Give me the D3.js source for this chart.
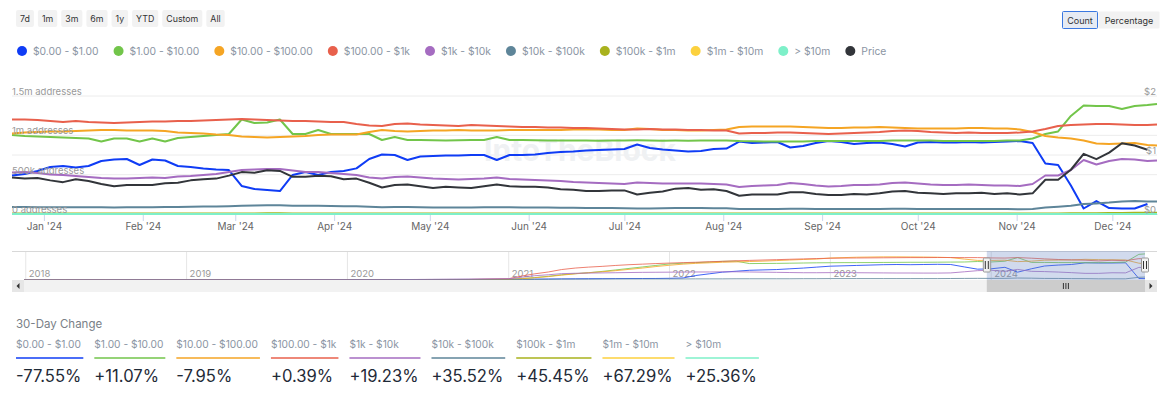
<!DOCTYPE html>
<html>
<head>
<meta charset="utf-8">
<title>Addresses by Balance</title>
<script src="https://cdn.jsdelivr.net/npm/d3@7/dist/d3.min.js"></script>
<style>
  body { margin: 0; background: #fff; }
  svg { display: block; font-family: Inter, "Noto Sans", sans-serif; }
</style>
</head>
<body>
<svg></svg>
<script>
var width = 1170;
var height = 398;

var svg = d3.select('svg')
    .attr('width', width)
    .attr('height', height);

//..................................................................................//
// data

var seriesNames = ['$0.00 - $1.00', '$1.00 - $10.00', '$10.00 - $100.00', '$100.00 - $1k', '$1k - $10k',
    '$10k - $100k', '$100k - $1m', '$1m - $10m', '> $10m'];
var seriesColors = ['#0f3cf5', '#72c54a', '#f5a524', '#e8604c', '#a56cc1', '#5e8599', '#a9b21d', '#fcd13e', '#7ef0c9'];
var priceName = 'Price';
var priceColor = '#32353a';

var changeValues = ['-77.55%', '+11.07%', '-7.95%', '+0.39%', '+19.23%', '+35.52%', '+45.45%', '+67.29%', '+25.36%'];
var rangeButtons = ['7d', '1m', '3m', '6m', '1y', 'YTD', 'Custom', 'All'];
var unitButtons = ['Count', 'Percentage'];

var yTicks = [0, 500, 1000, 1500];
var yTickLabels = ['0 addresses', '500k addresses', '1m addresses', '1.5m addresses'];
var priceTicks = [0, 1, 2];
var priceTickLabels = ['$0', '$1', '$2'];

// one sample every 4 days, 22 Dec 2023 .. 15 Dec 2024 (address counts in thousands)
var startDay = new Date(2023, 11, 22);
var days = d3.range(90).map(function (i) { return d3.timeDay.offset(startDay, i * 4); })
    .concat([new Date(2024, 11, 15)]);

var addr0to1 = [489, 508, 547, 597, 610, 591, 610, 674, 693, 699,
    623, 693, 680, 610, 597, 578, 566, 559, 356, 318,
    305, 292, 496, 534, 496, 534, 547, 580, 700, 756,
    750, 686, 731, 737, 744, 744, 750, 750, 686, 750,
    750, 756, 775, 788, 794, 807, 813, 820, 826, 883,
    839, 820, 807, 794, 801, 826, 832, 921, 902, 909,
    915, 845, 864, 902, 928, 915, 890, 902, 909, 890,
    858, 909, 915, 909, 909, 915, 909, 915, 921, 928,
    902, 642, 623, 362, 70, 165, 76, 70, 70, 127,
    null];
var addr1to10 = [1004, 991, 985, 979, 972, 966, 960, 921, 960, 960,
    921, 960, 921, 966, 979, 991, 1004, 1017, 1201, 1157,
    1163, 1201, 1017, 1017, 1068, 1017, 1017, 1017, 1017, 941,
    979, 941, 940, 936, 934, 938, 941, 941, 979, 941,
    940, 936, 934, 933, 935, 934, 932, 934, 935, 936,
    934, 931, 933, 932, 934, 935, 934, 928, 926, 922,
    921, 921, 923, 928, 927, 928, 929, 928, 928, 934,
    934, 933, 934, 928, 928, 927, 928, 929, 934, 934,
    960, 1017, 1049, 1246, 1379, 1373, 1373, 1335, 1373, 1385,
    1398];
var addr10to100 = [1023, 1036, 1042, 1049, 1049, 1055, 1061, 1068, 1068, 1061,
    1061, 1061, 1055, 1036, 1030, 1023, 1010, 1004, 985, 979,
    972, 979, 985, 991, 1004, 1010, 1010, 1010, 1042, 1068,
    1055, 1049, 1055, 1061, 1061, 1068, 1061, 1061, 1061, 1068,
    1068, 1068, 1068, 1068, 1074, 1074, 1074, 1068, 1068, 1087,
    1080, 1068, 1068, 1061, 1061, 1068, 1074, 1106, 1112, 1112,
    1112, 1112, 1106, 1099, 1093, 1093, 1099, 1099, 1106, 1099,
    1093, 1087, 1087, 1087, 1087, 1093, 1093, 1087, 1087, 1074,
    1042, 991, 972, 960, 934, 896, 890, 896, 902, 877,
    871];
var addr100to1k = [1201, 1201, 1195, 1182, 1169, 1182, 1169, 1163, 1157, 1163,
    1169, 1176, 1176, 1182, 1182, 1188, 1195, 1201, 1207, 1201,
    1195, 1188, 1182, 1182, 1176, 1169, 1169, 1144, 1125, 1118,
    1144, 1150, 1138, 1131, 1125, 1118, 1131, 1125, 1118, 1112,
    1106, 1106, 1099, 1099, 1093, 1093, 1087, 1080, 1074, 1074,
    1080, 1074, 1074, 1068, 1068, 1061, 1061, 1023, 1030, 1030,
    1036, 1036, 1030, 1023, 1017, 1023, 1030, 1036, 1042, 1055,
    1061, 1055, 1042, 1036, 1030, 1036, 1030, 1030, 1030, 1036,
    1049, 1080, 1118, 1131, 1138, 1144, 1144, 1138, 1131, 1131,
    1138];
var addr1kto10k = [527, 534, 521, 502, 496, 483, 470, 458, 451, 451,
    458, 464, 458, 477, 483, 496, 508, 534, 559, 566,
    572, 572, 553, 534, 534, 521, 508, 496, 464, 451,
    470, 477, 464, 451, 445, 438, 445, 451, 464, 445,
    438, 432, 426, 419, 407, 400, 394, 388, 381, 400,
    394, 388, 388, 388, 388, 381, 375, 343, 356, 362,
    369, 394, 381, 362, 350, 356, 369, 369, 375, 394,
    400, 388, 375, 369, 369, 375, 369, 362, 362, 356,
    381, 489, 489, 559, 686, 629, 674, 699, 693, 674,
    680];
var addr10kto100k = [88, 88, 87, 86, 86, 87, 86, 85, 84, 85,
    85, 86, 88, 90, 92, 94, 96, 100, 106, 108,
    110, 110, 106, 104, 104, 103, 100, 98, 92, 86,
    88, 88, 86, 84, 84, 84, 83, 85, 87, 85,
    84, 83, 82, 80, 78, 76, 75, 75, 74, 70,
    71, 73, 76, 77, 75, 74, 72, 62, 63, 64,
    64, 67, 67, 64, 62, 62, 63, 62, 64, 66,
    67, 64, 63, 62, 62, 63, 64, 62, 62, 61,
    64, 82, 92, 105, 126, 135, 145, 160, 166, 160,
    158];
var addr100kto1m = [7, 7, 7, 6.8, 6.6, 6.8, 6.6, 6.3, 6.1, 6.2,
    6.2, 6.2, 6.4, 6.6, 6.8, 6.8, 6.9, 7.2, 7.8, 7.8,
    8.1, 8.0, 7.3, 7.3, 7.4, 7.3, 7.0, 7.0, 6.6, 6.1,
    6.3, 6.4, 6.2, 6.0, 6.1, 6.0, 6.0, 6.2, 6.3, 6.1,
    6.1, 6.1, 6.0, 5.8, 5.7, 5.5, 5.5, 5.5, 5.5, 5.1,
    5.3, 5.4, 5.7, 5.8, 5.6, 5.6, 5.4, 4.9, 5.0, 5.0,
    5.0, 5.2, 5.2, 5.0, 4.9, 4.9, 5.0, 5.0, 5.1, 5.2,
    5.3, 5.1, 5.1, 5.0, 5.1, 5.1, 5.2, 5.0, 5.1, 4.9,
    5.0, 6.2, 6.6, 8.5, 10.5, 11, 12, 14, 14.5, 15,
    15.5];
var addr1mto10m = [0.9, 0.9, 0.9, 0.9, 0.8, 0.9, 0.8, 0.8, 0.8, 0.8,
    0.8, 0.8, 0.8, 0.8, 0.9, 0.9, 0.9, 0.9, 1.0, 1.0,
    1.0, 1.0, 0.9, 0.9, 0.9, 0.9, 0.9, 0.9, 0.9, 0.8,
    0.8, 0.8, 0.8, 0.8, 0.8, 0.8, 0.8, 0.8, 0.8, 0.8,
    0.8, 0.8, 0.8, 0.8, 0.7, 0.7, 0.7, 0.7, 0.7, 0.7,
    0.7, 0.7, 0.7, 0.7, 0.7, 0.7, 0.7, 0.6, 0.6, 0.6,
    0.6, 0.6, 0.6, 0.6, 0.6, 0.6, 0.6, 0.6, 0.6, 0.6,
    0.6, 0.6, 0.6, 0.6, 0.6, 0.6, 0.6, 0.6, 0.6, 0.6,
    0.6, 0.7, 0.7, 0.8, 1.0, 1.0, 1.1, 1.2, 1.2, 1.2,
    1.2];
var addrOver10m = [0.2, 0.2, 0.2, 0.2, 0.2, 0.2, 0.2, 0.2, 0.2, 0.2,
    0.2, 0.2, 0.2, 0.2, 0.2, 0.2, 0.2, 0.2, 0.25, 0.25,
    0.25, 0.25, 0.2, 0.2, 0.2, 0.2, 0.2, 0.2, 0.2, 0.2,
    0.2, 0.2, 0.2, 0.2, 0.2, 0.2, 0.2, 0.2, 0.2, 0.2,
    0.2, 0.2, 0.2, 0.2, 0.2, 0.2, 0.2, 0.2, 0.2, 0.2,
    0.2, 0.2, 0.2, 0.2, 0.2, 0.2, 0.2, 0.15, 0.15, 0.15,
    0.15, 0.15, 0.15, 0.15, 0.15, 0.15, 0.15, 0.15, 0.15, 0.15,
    0.15, 0.15, 0.15, 0.15, 0.15, 0.15, 0.15, 0.15, 0.15, 0.15,
    0.15, 0.17, 0.17, 0.18, 0.2, 0.2, 0.21, 0.22, 0.22, 0.22,
    0.22];
var price = [0.62, 0.60, 0.61, 0.57, 0.54, 0.59, 0.56, 0.51, 0.47, 0.49,
    0.49, 0.49, 0.52, 0.53, 0.57, 0.59, 0.60, 0.65, 0.71, 0.70,
    0.74, 0.73, 0.63, 0.63, 0.65, 0.64, 0.59, 0.60, 0.53, 0.45,
    0.49, 0.50, 0.47, 0.44, 0.46, 0.45, 0.44, 0.47, 0.50, 0.47,
    0.46, 0.46, 0.45, 0.42, 0.41, 0.39, 0.39, 0.40, 0.40, 0.33,
    0.36, 0.38, 0.43, 0.44, 0.41, 0.42, 0.39, 0.31, 0.33, 0.33,
    0.33, 0.37, 0.37, 0.34, 0.32, 0.32, 0.34, 0.33, 0.35, 0.38,
    0.39, 0.36, 0.35, 0.34, 0.35, 0.35, 0.36, 0.34, 0.35, 0.33,
    0.35, 0.58, 0.58, 0.75, 1.02, 0.93, 1.04, 1.20, 1.16, 1.09,
    null];

var mainSeries = [addr0to1, addr1to10, addr10to100, addr100to1k, addr1kto10k,
    addr10kto100k, addr100kto1m, addr1mto10m, addrOver10m];

// navigator: full history, thousands of addresses
var navDays = ['2017-12-28', '2018-04-01', '2018-07-01', '2018-10-01', '2019-01-01', '2019-04-01',
    '2019-07-01', '2019-10-01', '2020-01-01', '2020-04-01', '2020-07-01', '2020-10-01']
    .map(function (s) { return d3.timeParse('%Y-%m-%d')(s); })
    .concat(d3.timeMonth.range(new Date(2021, 0, 1), new Date(2025, 0, 1)))
    .concat([new Date(2024, 11, 15)]);

var nav0to1 = [3, 6, 7, 8, 9, 10, 12, 14, 17, 22, 28, 35,
    40, 45, 50, 55, 60, 65, 70, 72, 75, 78, 80, 82,
    90, 110, 240, 330, 420, 470, 520, 540, 560, 600, 640, 690,
    740, 760, 780, 800, 820, 830, 820, 830, 840, 830, 700, 580,
    600, 680, 420, 600, 750, 800, 830, 920, 910, 910, 920, 80,
    75];
var nav1to10 = [1, 3, 4, 4, 5, 6, 7, 8, 9, 11, 13, 16,
    30, 80, 130, 200, 280, 340, 390, 460, 540, 620, 700, 780,
    860, 900, 930, 960, 1000, 1010, 880, 885, 890, 900, 910, 920,
    925, 930, 930, 935, 940, 945, 950, 950, 955, 960, 965, 990,
    966, 1004, 1201, 941, 941, 934, 934, 928, 928, 934, 960, 1373,
    1398];
var nav10to100 = [1, 3, 4, 5, 5, 6, 7, 8, 9, 10, 12, 14,
    25, 70, 120, 180, 260, 330, 390, 440, 500, 570, 640, 720,
    790, 850, 890, 920, 950, 970, 990, 1010, 1040, 1070, 1100, 1120,
    1180, 1200, 1220, 1230, 1240, 1240, 1235, 1230, 1220, 1200, 1120, 1050,
    1049, 1061, 985, 1010, 1061, 1068, 1074, 1106, 1093, 1087, 1074, 902,
    871];
var nav100to1k = [2, 8, 10, 12, 13, 15, 17, 19, 21, 24, 28, 34,
    70, 220, 330, 430, 560, 640, 690, 730, 780, 820, 850, 880,
    906, 930, 950, 980, 1000, 1030, 1050, 1070, 1090, 1110, 1130, 1150,
    1165, 1175, 1180, 1185, 1190, 1195, 1200, 1200, 1205, 1205, 1200, 1200,
    1182, 1176, 1201, 1169, 1131, 1099, 1080, 1061, 1023, 1055, 1036, 1144,
    1138];
var nav1kto10k = [3, 8, 10, 11, 12, 13, 15, 17, 19, 22, 30, 40,
    70, 150, 230, 280, 340, 360, 370, 380, 390, 400, 410, 415,
    420, 425, 430, 430, 440, 440, 430, 420, 410, 400, 390, 390,
    395, 400, 390, 385, 380, 375, 375, 370, 370, 380, 440, 500,
    521, 464, 566, 464, 451, 426, 394, 356, 356, 388, 381, 674,
    680];
var nav10kto100k = [1, 2, 2, 3, 3, 3, 3, 4, 4, 5, 5, 6,
    10, 20, 30, 35, 45, 45, 45, 50, 55, 55, 55, 55,
    55, 55, 60, 60, 60, 65, 65, 65, 65, 65, 70, 70,
    75, 75, 75, 75, 75, 75, 75, 75, 75, 80, 85, 88,
    86, 88, 106, 98, 84, 83, 74, 72, 62, 63, 62, 145,
    158];
var navSeries = [nav0to1, nav1to10, nav10to100, nav100to1k, nav1kto10k, nav10kto100k];

//..................................................................................//
// scales

var x = d3.scaleTime().domain([days[0], days[days.length - 1]]).range([12, 1157]);
var y = d3.scaleLinear().domain([0, 1500]).range([214, 96]);
var yPrice = d3.scaleLinear().domain([0, 2]).range([214, 96]);

var navX = d3.scaleTime().domain([navDays[0], navDays[navDays.length - 1]]).range([24, 1145]);
var navY = d3.scaleLinear().domain([0, 1500]).range([280, 252]);

//..................................................................................//
// top buttons

var bx = 16;
rangeButtons.forEach(function (label) {
    var g = svg.append('g');
    var t = g.append('text')
        .attr('y', 22)
        .attr('font-size', 8.8)
        .attr('fill', '#333')
        .attr('text-anchor', 'middle')
        .text(label);
    var w = t.node().getComputedTextLength() + 8;
    t.attr('x', bx + w / 2);
    g.insert('rect', 'text')
        .attr('x', bx).attr('y', 10)
        .attr('width', w).attr('height', 17)
        .attr('rx', 2)
        .attr('fill', '#f2f2f2');
    bx += w + 4;
});

var ux = [1062, 1098];
var uw = [36, 62];
unitButtons.forEach(function (label, i) {
    svg.append('rect')
        .attr('x', ux[i] + 0.5).attr('y', 11.5)
        .attr('width', uw[i] - 1).attr('height', 17)
        .attr('rx', 1)
        .attr('fill', i == 0 ? '#e6ebf3' : '#f2f2f2')
        .attr('stroke', i == 0 ? '#3a78e0' : 'none');
    svg.append('text')
        .attr('x', ux[i] + uw[i] / 2).attr('y', 23.5)
        .attr('text-anchor', 'middle')
        .attr('font-size', 9)
        .attr('fill', '#333')
        .text(label);
});

//..................................................................................//
// legend

var legendItems = seriesNames.map(function (n, i) { return { name: n, color: seriesColors[i] }; })
    .concat([{ name: priceName, color: priceColor }]);

var lx = 22;
legendItems.forEach(function (d) {
    var g = svg.append('g').attr('transform', 'translate(' + lx + ',51)');
    g.append('circle').attr('r', 5).attr('fill', d.color);
    var t = g.append('text')
        .attr('x', 11).attr('y', 3.8)
        .attr('font-size', 10.3)
        .attr('fill', '#8b95a3')
        .text(d.name);
    lx += 11 + t.node().getComputedTextLength() + 20;
});

//..................................................................................//
// grid, watermark

svg.append('g').selectAll('line')
    .data(yTicks.map(y).concat([yPrice(1)]))
    .enter().append('line')
    .attr('x1', 12).attr('x2', 1157)
    .attr('y1', function (d) { return d; })
    .attr('y2', function (d) { return d; })
    .attr('stroke', '#ececec');

svg.append('text')
    .attr('x', 580).attr('y', 161)
    .attr('text-anchor', 'middle')
    .attr('font-size', 30)
    .attr('font-weight', 700)
    .attr('fill', '#eff1f3')
    .text('IntoTheBlock');

// x axis
var xAxis = d3.axisBottom(x)
    .ticks(d3.timeMonth.every(1))
    .tickSize(7)
    .tickSizeOuter(0)
    .tickPadding(2)
    .tickFormat(d3.timeFormat("%b '%y"));

var gx = svg.append('g')
    .attr('transform', 'translate(0,214)')
    .call(xAxis);
gx.select('.domain').attr('stroke', '#ccd6eb');
gx.selectAll('.tick line').attr('stroke', '#ccd6eb');
gx.selectAll('.tick text').attr('fill', '#666').attr('font-size', 10).attr('font-family', 'Inter');

//..................................................................................//
// lines

var line = d3.line()
    .defined(function (d) { return d[1] != null; })
    .x(function (d) { return x(d[0]); })
    .y(function (d) { return y(d[1]); });

mainSeries.forEach(function (vals, i) {
    svg.append('path')
        .datum(vals.map(function (v, j) { return [days[j], v]; }))
        .attr('fill', 'none')
        .attr('stroke', seriesColors[i])
        .attr('stroke-width', 2)
        .attr('stroke-linejoin', 'round')
        .attr('d', line);
});

var priceLine = d3.line()
    .defined(function (d) { return d[1] != null; })
    .x(function (d) { return x(d[0]); })
    .y(function (d) { return yPrice(d[1]); });

svg.append('path')
    .datum(price.map(function (v, j) { return [days[j], v]; }))
    .attr('fill', 'none')
    .attr('stroke', priceColor)
    .attr('stroke-width', 2)
    .attr('stroke-linejoin', 'round')
    .attr('d', priceLine);

// axis labels on top
yTicks.forEach(function (t, i) {
    svg.append('text')
        .attr('x', 12).attr('y', y(t) - 1)
        .attr('font-size', 9.5)
        .attr('fill', '#999')
        .text(yTickLabels[i]);
});
priceTicks.forEach(function (t, i) {
    svg.append('text')
        .attr('x', 1156).attr('y', yPrice(t) - 1)
        .attr('text-anchor', 'end')
        .attr('font-size', 9.5)
        .attr('fill', '#999')
        .text(priceTickLabels[i]);
});

//..................................................................................//
// navigator

var nav = svg.append('g');

d3.range(2018, 2025).forEach(function (yr) {
    var xx = navX(new Date(yr, 0, 1));
    nav.append('line')
        .attr('x1', xx).attr('x2', xx)
        .attr('y1', 251).attr('y2', 280)
        .attr('stroke', '#e6e6e6');
    nav.append('text')
        .attr('x', xx + 3).attr('y', 277)
        .attr('font-size', 9.5)
        .attr('fill', '#999')
        .text(yr);
});

var navLine = d3.line()
    .x(function (d) { return navX(d[0]); })
    .y(function (d) { return navY(d[1]); });

navSeries.forEach(function (vals, i) {
    nav.append('path')
        .datum(vals.map(function (v, j) { return [navDays[j], v]; }))
        .attr('fill', 'none')
        .attr('stroke', seriesColors[i])
        .attr('stroke-opacity', 0.8)
        .attr('stroke-width', 1)
        .attr('d', navLine);
});

var selA = navX(days[0]);
var selB = navX(days[days.length - 1]);

nav.append('line')
    .attr('x1', 12).attr('x2', 1157)
    .attr('y1', 251.5).attr('y2', 251.5)
    .attr('stroke', '#d8d8d8');

nav.append('rect')
    .attr('x', selA).attr('y', 251)
    .attr('width', selB - selA).attr('height', 29)
    .attr('fill', 'rgba(102,133,194,0.3)');

[selA, selB].forEach(function (hx) {
    nav.append('rect')
        .attr('x', hx - 3.5).attr('y', 258)
        .attr('width', 7).attr('height', 14)
        .attr('rx', 1)
        .attr('fill', '#f2f2f2')
        .attr('stroke', '#999');
    [-1.5, 1.5].forEach(function (o) {
        nav.append('line')
            .attr('x1', hx + o).attr('x2', hx + o)
            .attr('y1', 261).attr('y2', 269)
            .attr('stroke', '#333');
    });
});

// scrollbar
nav.append('rect')
    .attr('x', 12).attr('y', 280)
    .attr('width', 1145).attr('height', 12)
    .attr('fill', '#f2f2f2');
nav.append('rect')
    .attr('x', selA).attr('y', 280)
    .attr('width', selB - selA).attr('height', 12)
    .attr('fill', '#cccccc');
[-2.5, 0, 2.5].forEach(function (o) {
    nav.append('line')
        .attr('x1', (selA + selB) / 2 + o).attr('x2', (selA + selB) / 2 + o)
        .attr('y1', 283).attr('y2', 289)
        .attr('stroke', '#333');
});
[12, 1145].forEach(function (bxx, i) {
    nav.append('rect')
        .attr('x', bxx).attr('y', 280)
        .attr('width', 12).attr('height', 12)
        .attr('fill', '#e6e6e6');
    var cx = bxx + 6;
    var pts = i == 0
        ? [[cx + 1.5, 283], [cx + 1.5, 289], [cx - 1.5, 286]]
        : [[cx - 1.5, 283], [cx - 1.5, 289], [cx + 1.5, 286]];
    nav.append('path')
        .attr('d', d3.line()(pts) + 'Z')
        .attr('fill', '#333');
});

//..................................................................................//
// 30-day change

svg.append('text')
    .attr('x', 16).attr('y', 328)
    .attr('font-size', 11.5)
    .attr('fill', '#7a7f87')
    .text('30-Day Change');

var cx0 = 16;
seriesNames.forEach(function (n, i) {
    var lab = svg.append('text')
        .attr('x', cx0).attr('y', 348)
        .attr('font-size', 10.2)
        .attr('fill', '#8b95a3')
        .text(n);
    var val = svg.append('text')
        .attr('x', cx0).attr('y', 382)
        .attr('font-size', 16.6)
        .attr('fill', '#1f2a37')
        .text(changeValues[i]);
    var w = Math.max(lab.node().getComputedTextLength(), val.node().getComputedTextLength()) + 2;
    svg.append('line')
        .attr('x1', cx0).attr('x2', cx0 + w)
        .attr('y1', 358).attr('y2', 358)
        .attr('stroke', seriesColors[i])
        .attr('stroke-width', 1.5);
    cx0 += w + 11;
});
</script>
</body>
</html>
